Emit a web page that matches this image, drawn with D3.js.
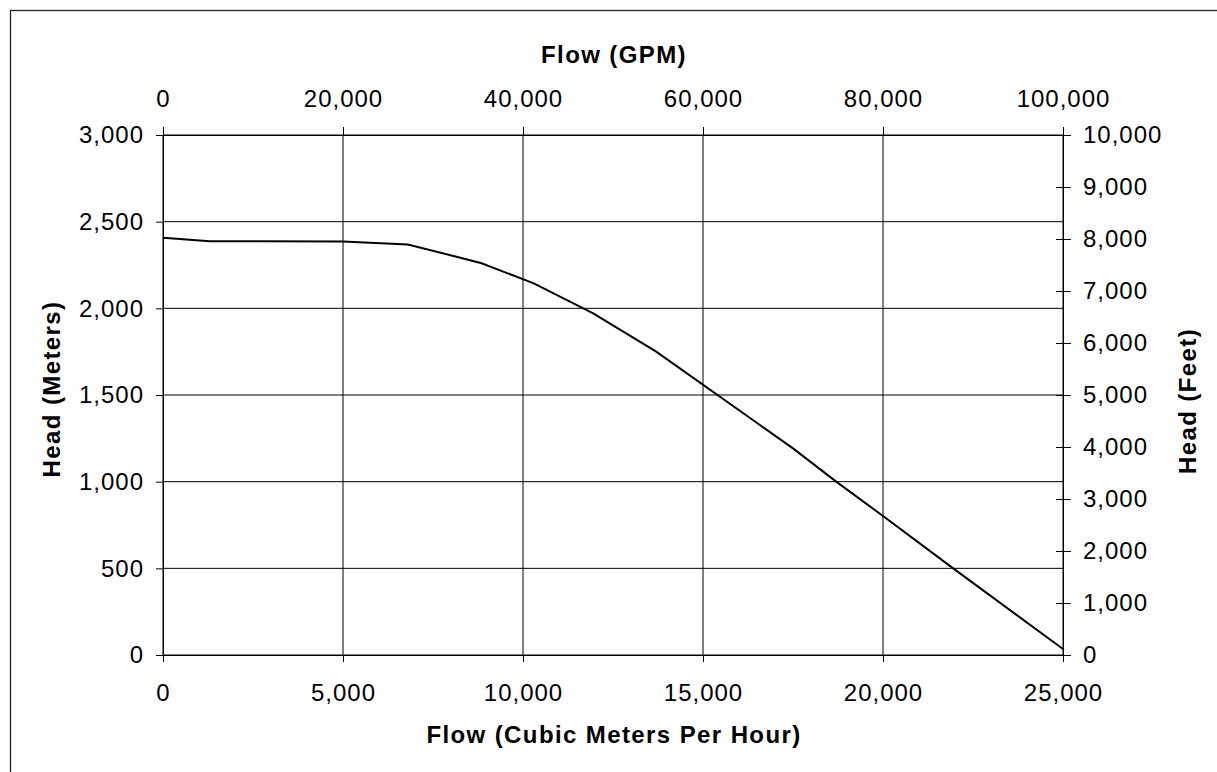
<!DOCTYPE html>
<html>
<head>
<meta charset="utf-8">
<script src="https://cdn.jsdelivr.net/npm/d3@7"></script>
<style>
  body { margin: 0; background: #fff; }
  svg { display: block; font-family: "Liberation Sans", Arial, sans-serif; }
  .tick text { font-size: 24px; letter-spacing: 1px; fill: #000; }
  .tick line, .domain { stroke: #000; }
  .title { font-size: 24px; font-weight: bold; letter-spacing: 1.4px; fill: #000; }
</style>
</head>
<body>
<svg id="chart" width="1217" height="772"></svg>
<script>
// pump curve, flow in m3/h vs head in meters
const flowM3h = [0, 1300, 5000, 6800, 8150, 8850, 10300, 11950, 13700, 17500, 18700, 20000, 21950, 25000];
const headM   = [2407, 2387, 2385, 2368, 2298, 2260, 2144, 1971, 1750, 1192, 1000, 802, 500, 35];

const flowTicks = [0, 5000, 10000, 15000, 20000, 25000];
const gpmTicks = [0, 20000, 40000, 60000, 80000, 100000];
const headMTicks = [0, 500, 1000, 1500, 2000, 2500, 3000];
const headFtTicks = [0, 1000, 2000, 3000, 4000, 5000, 6000, 7000, 8000, 9000, 10000];

const margin = { left: 163, top: 135 };
const width = 900, height = 520;
const fmt = d3.format(",");

const svg = d3.select("#chart");

// outer frame (right and bottom edges run off the page)
svg.append("rect")
    .attr("x", 10.5).attr("y", 10.5)
    .attr("width", 1240).attr("height", 800)
    .attr("fill", "none").attr("stroke", "#222").attr("stroke-width", 1.3);

const x = d3.scaleLinear().domain([0, 25000]).range([0, width]);
const xTop = d3.scaleLinear().domain([0, 100000]).range([0, width]);
const y = d3.scaleLinear().domain([0, 3000]).range([height, 0]);
const yFt = d3.scaleLinear().domain([0, 10000]).range([height, 0]);

const g = svg.append("g").attr("transform", `translate(${margin.left},${margin.top})`);

// grid
g.append("g").selectAll("line").data(headMTicks).join("line")
    .attr("x1", 0).attr("x2", width)
    .attr("y1", d => y(d)).attr("y2", d => y(d))
    .attr("stroke", "#000").attr("stroke-width", 1);
g.append("g").selectAll("line").data(flowTicks).join("line")
    .attr("x1", d => x(d)).attr("x2", d => x(d))
    .attr("y1", 0).attr("y2", height)
    .attr("stroke", "#000").attr("stroke-width", 1);

// axes
g.append("g")
    .attr("transform", `translate(0,${height})`)
    .call(d3.axisBottom(x).tickValues(flowTicks).tickFormat(fmt).tickSize(7).tickSizeOuter(0).tickPadding(22))
    .call(a => a.selectAll("text").attr("font-family", null).attr("font-size", null));

g.append("g")
    .call(d3.axisTop(xTop).tickValues(gpmTicks).tickFormat(fmt).tickSize(8).tickSizeOuter(0).tickPadding(20))
    .call(a => a.selectAll("text").attr("font-family", null).attr("font-size", null));

g.append("g")
    .call(d3.axisLeft(y).tickValues(headMTicks).tickFormat(fmt).tickSize(7).tickSizeOuter(0).tickPadding(12))
    .call(a => a.selectAll("text").attr("font-family", null).attr("font-size", null));

g.append("g")
    .attr("transform", `translate(${width},0)`)
    .call(d3.axisRight(yFt).tickValues(headFtTicks).tickFormat(fmt).tickSize(8).tickSizeOuter(0).tickPadding(12))
    .call(a => a.selectAll(".tick line").attr("x1", -7))
    .call(a => a.selectAll("text").attr("font-family", null).attr("font-size", null));

// curve
const line = d3.line().x((d, i) => x(flowM3h[i])).y(d => y(d));
g.append("path")
    .datum(headM)
    .attr("d", line)
    .attr("fill", "none")
    .attr("stroke", "#000")
    .attr("stroke-width", 2);

// titles
svg.append("text").attr("class", "title")
    .attr("x", 614).attr("y", 63).attr("text-anchor", "middle")
    .text("Flow (GPM)");
svg.append("text").attr("class", "title")
    .attr("x", 614).attr("y", 743).attr("text-anchor", "middle")
    .text("Flow (Cubic Meters Per Hour)");
svg.append("text").attr("class", "title")
    .attr("transform", "translate(60,389) rotate(-90)").attr("text-anchor", "middle")
    .text("Head (Meters)");
svg.append("text").attr("class", "title")
    .attr("transform", "translate(1196,401) rotate(-90)").attr("text-anchor", "middle")
    .text("Head (Feet)");
</script>
</body>
</html>
